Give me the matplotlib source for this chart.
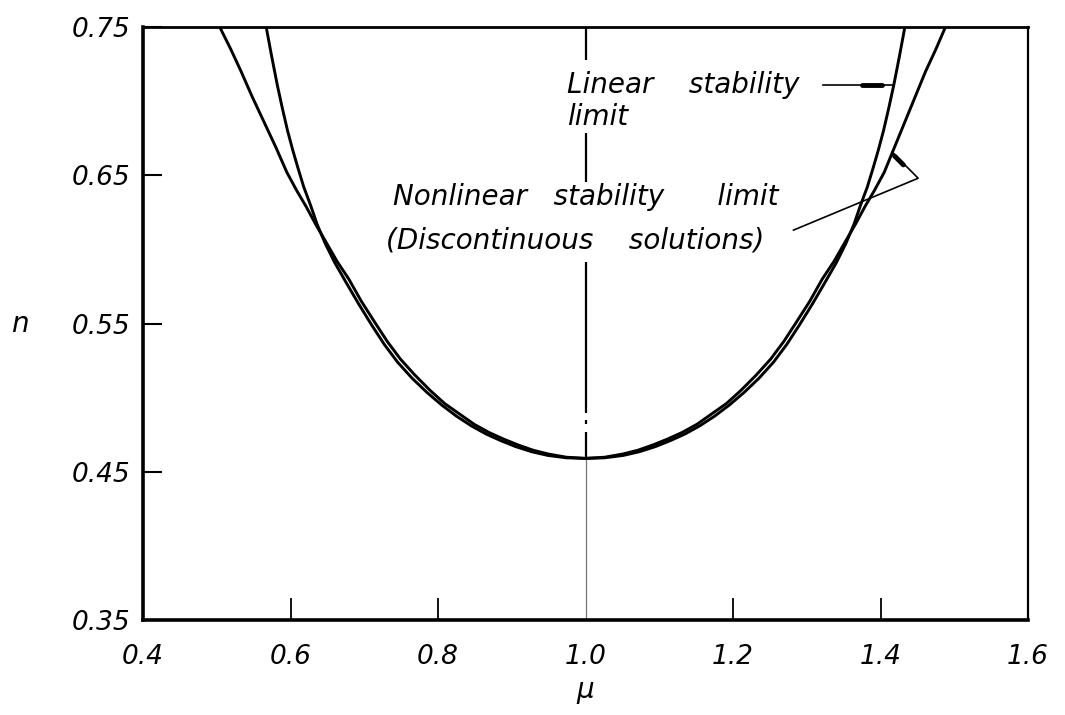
import matplotlib
matplotlib.use("Agg")
import matplotlib.pyplot as plt

# stability limit curves, read as (mu, n) pairs from left top to right top
mu_nonlinear = [0.504, 0.519, 0.533, 0.548, 0.564, 0.580, 0.595, 0.608, 0.621, 0.634,
                0.648, 0.663, 0.679, 0.696, 0.714, 0.731, 0.749, 0.769, 0.789, 0.809,
                0.829, 0.849, 0.869, 0.889, 0.909, 0.929, 0.949, 0.974, 1.000,
                1.026, 1.051, 1.071, 1.091, 1.111, 1.131, 1.151, 1.171, 1.191, 1.211,
                1.231, 1.251, 1.269, 1.286, 1.304, 1.321, 1.337, 1.352, 1.366, 1.379,
                1.392, 1.405, 1.419, 1.433, 1.447, 1.461, 1.475, 1.488]
n_nonlinear = [0.750, 0.735, 0.720, 0.703, 0.686, 0.669, 0.652, 0.640, 0.629, 0.617,
               0.605, 0.592, 0.580, 0.565, 0.551, 0.538, 0.526, 0.515, 0.505, 0.496,
               0.489, 0.482, 0.4765, 0.472, 0.468, 0.4645, 0.462, 0.4598, 0.459,
               0.4598, 0.462, 0.4645, 0.468, 0.472, 0.4765, 0.482, 0.489, 0.496, 0.505,
               0.515, 0.526, 0.538, 0.551, 0.565, 0.580, 0.592, 0.605, 0.617, 0.629,
               0.640, 0.652, 0.669, 0.686, 0.703, 0.720, 0.735, 0.750]

mu_linear = [0.567, 0.5745, 0.582, 0.589, 0.596, 0.603, 0.610, 0.618, 0.627, 0.636,
             0.647, 0.660, 0.675, 0.692, 0.710, 0.727, 0.745, 0.765, 0.785, 0.805,
             0.825, 0.845, 0.865, 0.885, 0.905, 0.927, 0.949, 0.974, 1.000,
             1.026, 1.051, 1.073, 1.095, 1.115, 1.135, 1.155, 1.175, 1.195, 1.215,
             1.235, 1.255, 1.273, 1.290, 1.308, 1.325, 1.340, 1.353, 1.364, 1.373,
             1.382, 1.390, 1.397, 1.404, 1.411, 1.418, 1.4255, 1.433]
n_linear = [0.750, 0.730, 0.711, 0.695, 0.680, 0.667, 0.655, 0.642, 0.630, 0.617,
            0.604, 0.591, 0.578, 0.5635, 0.549, 0.536, 0.524, 0.513, 0.5035, 0.495,
            0.4875, 0.481, 0.4755, 0.471, 0.467, 0.4635, 0.461, 0.4594, 0.459,
            0.4594, 0.461, 0.4635, 0.467, 0.471, 0.4755, 0.481, 0.4875, 0.495, 0.5035,
            0.513, 0.524, 0.536, 0.549, 0.5635, 0.578, 0.591, 0.604, 0.617, 0.630,
            0.642, 0.655, 0.667, 0.680, 0.695, 0.711, 0.730, 0.750]

x_ticks = [0.4, 0.6, 0.8, 1.0, 1.2, 1.4, 1.6]
x_labels = ["0.4", "0.6", "0.8", "1.0", "1.2", "1.4", "1.6"]
y_ticks = [0.35, 0.45, 0.55, 0.65, 0.75]
y_labels = ["0.35", "0.45", "0.55", "0.65", "0.75"]

plt.rcParams['font.family'] = ['DejaVu Sans']
plt.rcParams['font.style'] = 'oblique'

fig = plt.figure(figsize=(10.65, 7.15), dpi=100)
ax = fig.add_axes([0.1343, 0.1329, 0.8310, 0.8293])

ax.plot(mu_nonlinear, n_nonlinear, color='black', lw=2.1, solid_capstyle='butt', zorder=3)
ax.plot(mu_linear, n_linear, color='black', lw=2.1, solid_capstyle='butt', zorder=3)

# axis of symmetry through the minimum
i_min = n_linear.index(min(n_linear))
mu_c, n_c = mu_linear[i_min], n_linear[i_min]
ax.plot([mu_c, mu_c], [0.35, n_c], color='0.45', lw=0.9, zorder=2)
for top, bot in [(0.75, 0.7277), (0.6785, 0.6455), (0.5915, 0.4896), (0.4850, 0.4825), (0.4768, n_c)]:
    ax.plot([mu_c, mu_c], [bot, top], color='black', lw=1.6, solid_capstyle='butt', zorder=2)

ax.set_xlim(0.4, 1.6)
ax.set_ylim(0.35, 0.75)
ax.set_xticks(x_ticks)
ax.set_xticklabels(x_labels)
ax.set_yticks(y_ticks)
ax.set_yticklabels(y_labels)
ax.tick_params(axis='x', direction='in', length=16, width=1.3, labelsize=19, pad=17)
ax.tick_params(axis='y', direction='in', length=14, width=1.5, labelsize=19, pad=9)
ax.xaxis.get_major_ticks()[3].tick1line.set_visible(False)

ax.spines['left'].set_linewidth(2.6)
ax.spines['bottom'].set_linewidth(2.6)
ax.spines['top'].set_linewidth(2.0)
ax.spines['right'].set_linewidth(1.6)

ax.set_xlabel(r'$\mu$', fontsize=20, labelpad=6)
ax.set_ylabel('n', fontsize=20, rotation=0, va='center', ha='center')
ax.yaxis.set_label_coords(-0.139, 0.5)

# curve labels with leader lines
ax.text(0.975, 0.711, "Linear    stability", fontsize=20, va='center', ha='left')
ax.text(0.975, 0.689, "limit", fontsize=20, va='center', ha='left')
ax.plot([1.322, 1.418], [0.711, 0.711], color='black', lw=1.2)
ax.plot([1.375, 1.402], [0.711, 0.711], color='black', lw=3.5, solid_capstyle='round')

ax.text(0.739, 0.635, "Nonlinear   stability      limit", fontsize=20, va='center', ha='left')
ax.text(0.7295, 0.606, "(Discontinuous    solutions)", fontsize=20, va='center', ha='left')
ax.plot([1.282, 1.451, 1.4156], [0.613, 0.648, 0.6657], color='black', lw=1.2)
ax.plot([1.419, 1.431], [0.663, 0.657], color='black', lw=3.5, solid_capstyle='round')

fig.savefig('out.png', dpi=100, facecolor='white')
